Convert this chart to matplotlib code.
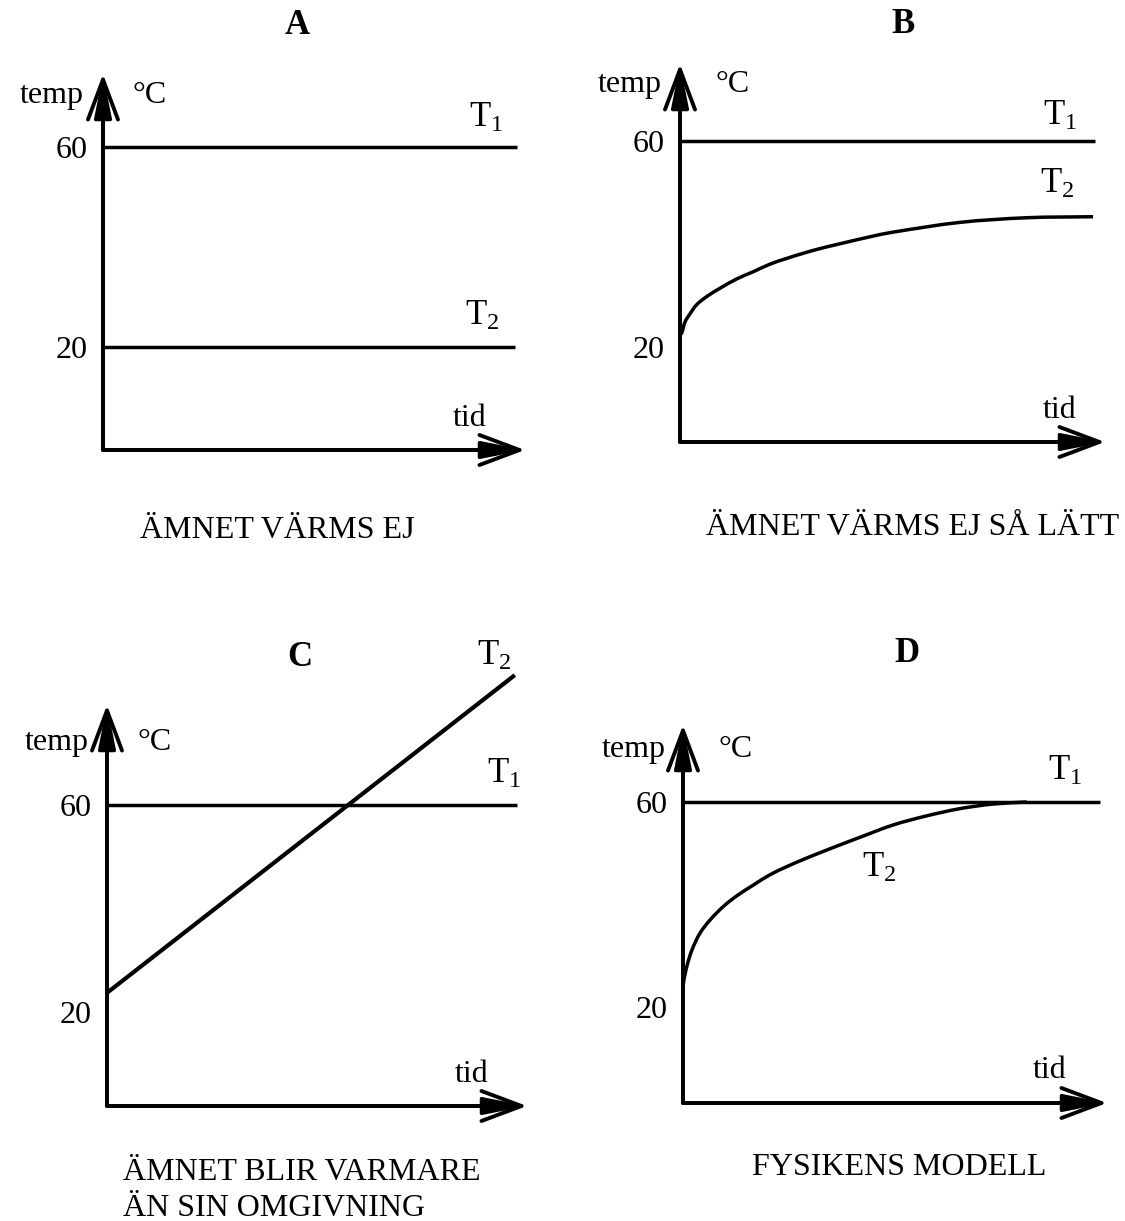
import math
import matplotlib
matplotlib.use('Agg')
import matplotlib.pyplot as plt
from matplotlib.path import Path
from matplotlib.patches import PathPatch

plt.rcParams['font.family'] = ['Liberation Serif', 'DejaVu Serif']
plt.rcParams['mathtext.fontset'] = 'custom'
plt.rcParams['mathtext.rm'] = 'Liberation Serif'
plt.rcParams['mathtext.it'] = 'Liberation Serif:italic'

# ---------------- data ----------------
panel_titles = ['A', 'B', 'C', 'D']
captions = ['ÄMNET VÄRMS EJ', 'ÄMNET VÄRMS EJ SÅ LÄTT',
            'ÄMNET BLIR VARMARE\nÄN SIN OMGIVNING', 'FYSIKENS MODELL']
tick_values = [20, 60]
tick_labels = ['20', '60']
y_label = 'temp'
unit_label = '°C'
x_label = 'tid'
series_labels = [r'$\mathrm{T}_1$', r'$\mathrm{T}_2$']

# Panel A
a_t1 = [0, 9.81]
a_T1 = [60, 60]
a_t2 = [0, 9.76]
a_T2 = [20, 20]
# Panel B
b_t1 = [0, 9.76]
b_T1 = [60, 60]
b_t2 = [0, 0.04, 0.12, 0.24, 0.39, 0.63, 0.94, 1.33, 1.72, 2.12, 2.51, 2.90,
        3.29, 3.69, 4.47, 5.01, 6.59, 8.16, 9.72]
b_T2 = [22.4, 22.7, 24.9, 26.5, 28.2, 29.8, 31.4, 33.2, 34.6, 36.1, 37.2, 38.2,
        39.1, 39.9, 41.4, 42.3, 44.2, 45.1, 45.3]
# Panel C
c_t1 = [0, 9.76]
c_T1 = [60, 60]
c_t2 = [0, 9.71]
c_T2 = [23.7, 85.1]
# Panel D
d_t1 = [0, 9.83]
d_T1 = [60, 60]
d_t2 = [0, 0.01, 0.09, 0.21, 0.40, 0.64, 0.95, 1.27, 1.66, 2.05, 2.45, 2.84,
        3.23, 3.63, 4.17, 4.95, 5.75, 6.53, 7.31, 8.11]
d_T2 = [21.9, 24.6, 27.9, 31.1, 34.4, 37.0, 39.6, 41.7, 43.8, 45.8, 47.4, 48.8,
        50.1, 51.4, 53.1, 55.5, 57.3, 58.7, 59.6, 60.0]

# ---------------- layout (pixels) ----------------
W, H = 1125, 1221
fig = plt.figure(figsize=(W / 100, H / 100), dpi=100)
fig.patch.set_facecolor('white')

LW = 2.5
FS = 23


def ptext(px, py, s, **kw):
    kw.setdefault('fontsize', FS)
    kw.setdefault('color', 'black')
    fig.text(px / W, 1 - py / H, s, **kw)


def make_axes(x0, y0, xtip, ytop, p60, p20):
    ax = fig.add_axes([x0 / W, 1 - y0 / H, (xtip - x0) / W, (y0 - ytop) / H])
    k = (p20 - p60) / 40.0
    ax.set_xlim(0, 10)
    ax.set_ylim(20 - (y0 - p20) / k, 60 + (p60 - ytop) / k)
    ax.patch.set_alpha(0)
    for s in ax.spines.values():
        s.set_visible(False)
    ax.set_xticks([])
    ax.set_yticks(tick_values)
    ax.set_yticklabels(tick_labels)
    ax.tick_params(axis='y', length=0, pad=11, labelsize=FS)
    barbs = dict(arrowstyle='->,head_length=1.2,head_width=0.45', lw=2.8,
                 color='black', shrinkA=0, shrinkB=0, mutation_scale=24)
    core = dict(arrowstyle='-|>,head_length=1.1,head_width=0.22', lw=LW,
                color='black', shrinkA=0, shrinkB=0, mutation_scale=24)
    for props in (barbs, core):
        ax.annotate('', xy=(1, 0), xytext=(0, 0), xycoords='axes fraction',
                    arrowprops=props)
        ax.annotate('', xy=(0, 1), xytext=(0, 0), xycoords='axes fraction',
                    arrowprops=props)
    return ax


def line(ax, t, T, lw=LW):
    ax.plot(t, T, color='black', lw=lw, clip_on=False, solid_capstyle='butt')


def smooth_curve(ax, t, T, lw=LW):
    # smooth curve through the read points (G1 Bezier with chord-length handles)
    sx, sy = 42.0, 5.15   # approximate display aspect so tangents look right
    pts = [(a * sx, b * sy) for a, b in zip(t, T)]
    n = len(pts)

    def unit(v):
        L = math.hypot(v[0], v[1])
        return (v[0] / L, v[1] / L)

    tang = []
    for i in range(n):
        a = pts[max(i - 1, 0)]
        b = pts[min(i + 1, n - 1)]
        tang.append(unit((b[0] - a[0], b[1] - a[1])))
    verts = [pts[0]]
    codes = [Path.MOVETO]
    for i in range(n - 1):
        p1, p2 = pts[i], pts[i + 1]
        L = math.hypot(p2[0] - p1[0], p2[1] - p1[1]) / 3
        c1 = (p1[0] + tang[i][0] * L, p1[1] + tang[i][1] * L)
        c2 = (p2[0] - tang[i + 1][0] * L, p2[1] - tang[i + 1][1] * L)
        verts += [c1, c2, p2]
        codes += [Path.CURVE4] * 3
    verts = [(a / sx, b / sy) for a, b in verts]
    patch = PathPatch(Path(verts, codes), facecolor='none', edgecolor='black',
                      lw=lw, transform=ax.transData, clip_on=False)
    ax.add_patch(patch)


# Panel A
axA = make_axes(103, 450, 525, 74, 147, 347)
line(axA, a_t1, a_T1)
line(axA, a_t2, a_T2)
ptext(297, 34, panel_titles[0], ha='center', va='baseline', fontweight='bold', fontsize=25)
ptext(52, 103, y_label, ha='center', va='baseline')
ptext(150, 103, unit_label, ha='center', va='baseline')
ptext(469, 127, series_labels[0], ha='left', va='baseline', fontsize=25)
ptext(465, 325, series_labels[1], ha='left', va='baseline', fontsize=25)
ptext(470, 426, x_label, ha='center', va='baseline')
ptext(277, 538, captions[0], ha='center', va='baseline')

# Panel B
axB = make_axes(680, 442, 1105, 64, 141, 347)
line(axB, b_t1, b_T1)
smooth_curve(axB, b_t2, b_T2)
ptext(903, 33, panel_titles[1], ha='center', va='baseline', fontweight='bold', fontsize=25)
ptext(630, 92, y_label, ha='center', va='baseline')
ptext(733, 92, unit_label, ha='center', va='baseline')
ptext(1043, 125, series_labels[0], ha='left', va='baseline', fontsize=25)
ptext(1040, 193, series_labels[1], ha='left', va='baseline', fontsize=25)
ptext(1060, 418, x_label, ha='center', va='baseline')
ptext(913, 535, captions[1], ha='center', va='baseline')

# Panel C
axC = make_axes(107, 1106, 527, 705, 805, 1012)
line(axC, c_t1, c_T1)
line(axC, c_t2, c_T2, lw=3.0)
ptext(300, 666, panel_titles[2], ha='center', va='baseline', fontweight='bold', fontsize=25)
ptext(57, 750, y_label, ha='center', va='baseline')
ptext(155, 750, unit_label, ha='center', va='baseline')
ptext(487, 783, series_labels[0], ha='left', va='baseline', fontsize=25)
ptext(477, 665, series_labels[1], ha='left', va='baseline', fontsize=25)
ptext(472, 1082, x_label, ha='center', va='baseline')
ptext(123, 1180, captions[2].split('\n')[0], ha='left', va='baseline')
ptext(123, 1216, captions[2].split('\n')[1], ha='left', va='baseline')

# Panel D
axD = make_axes(683, 1103, 1107, 725, 802, 1007)
line(axD, d_t1, d_T1)
smooth_curve(axD, d_t2, d_T2)
ptext(907, 662, panel_titles[3], ha='center', va='baseline', fontweight='bold', fontsize=25)
ptext(634, 757, y_label, ha='center', va='baseline')
ptext(736, 757, unit_label, ha='center', va='baseline')
ptext(1048, 780, series_labels[0], ha='left', va='baseline', fontsize=25)
ptext(862, 877, series_labels[1], ha='left', va='baseline', fontsize=25)
ptext(1050, 1078, x_label, ha='center', va='baseline')
ptext(899, 1175, captions[3], ha='center', va='baseline')

fig.savefig('out.png', dpi=100, facecolor='white')
